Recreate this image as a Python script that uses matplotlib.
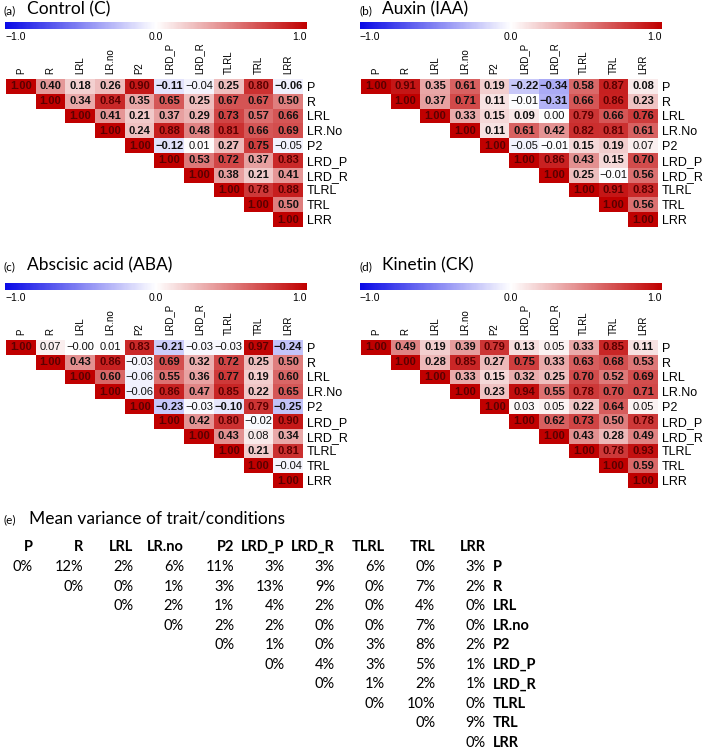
import numpy as np
import matplotlib
matplotlib.use('Agg')
import matplotlib.pyplot as plt
from matplotlib.colors import LinearSegmentedColormap, Normalize
import matplotlib.cm as cm

# ---------------- data ----------------
col_labels = ['P', 'R', 'LRL', 'LR.no', 'P2', 'LRD_P', 'LRD_R', 'TLRL', 'TRL', 'LRR']
row_labels = ['P', 'R', 'LRL', 'LR.No', 'P2', 'LRD_P', 'LRD_R', 'TLRL', 'TRL', 'LRR']

# upper-triangle rows (from diagonal to the right)
control_rows = [
    [1.00, 0.40, 0.18, 0.26, 0.90, -0.11, -0.04, 0.25, 0.80, -0.06],
    [1.00, 0.34, 0.84, 0.35, 0.65, 0.25, 0.67, 0.67, 0.50],
    [1.00, 0.41, 0.21, 0.37, 0.29, 0.73, 0.57, 0.66],
    [1.00, 0.24, 0.88, 0.48, 0.81, 0.66, 0.69],
    [1.00, -0.12, 0.01, 0.27, 0.75, -0.05],
    [1.00, 0.53, 0.72, 0.37, 0.83],
    [1.00, 0.38, 0.21, 0.41],
    [1.00, 0.78, 0.88],
    [1.00, 0.50],
    [1.00],
]
auxin_rows = [
    [1.00, 0.91, 0.35, 0.61, 0.19, -0.22, -0.34, 0.58, 0.87, 0.08],
    [1.00, 0.37, 0.71, 0.11, -0.01, -0.31, 0.66, 0.86, 0.23],
    [1.00, 0.33, 0.15, 0.09, 0.00, 0.79, 0.66, 0.76],
    [1.00, 0.11, 0.61, 0.42, 0.82, 0.81, 0.61],
    [1.00, -0.05, -0.01, 0.15, 0.19, 0.07],
    [1.00, 0.86, 0.43, 0.15, 0.70],
    [1.00, 0.25, -0.01, 0.56],
    [1.00, 0.91, 0.83],
    [1.00, 0.56],
    [1.00],
]
aba_rows = [
    [1.00, 0.07, -0.00, 0.01, 0.83, -0.21, -0.03, -0.03, 0.97, -0.24],
    [1.00, 0.43, 0.86, -0.03, 0.69, 0.32, 0.72, 0.25, 0.50],
    [1.00, 0.60, -0.06, 0.55, 0.36, 0.77, 0.19, 0.60],
    [1.00, -0.06, 0.86, 0.47, 0.85, 0.22, 0.65],
    [1.00, -0.23, -0.03, -0.10, 0.79, -0.25],
    [1.00, 0.42, 0.80, -0.02, 0.90],
    [1.00, 0.43, 0.08, 0.34],
    [1.00, 0.21, 0.81],
    [1.00, -0.04],
    [1.00],
]
kinetin_rows = [
    [1.00, 0.49, 0.19, 0.39, 0.79, 0.13, 0.05, 0.33, 0.85, 0.11],
    [1.00, 0.28, 0.85, 0.27, 0.75, 0.33, 0.63, 0.68, 0.53],
    [1.00, 0.33, 0.15, 0.32, 0.25, 0.70, 0.52, 0.69],
    [1.00, 0.23, 0.94, 0.55, 0.78, 0.70, 0.71],
    [1.00, 0.03, 0.05, 0.22, 0.64, 0.05],
    [1.00, 0.62, 0.73, 0.50, 0.78],
    [1.00, 0.43, 0.28, 0.49],
    [1.00, 0.78, 0.93],
    [1.00, 0.59],
    [1.00],
]

# non-significant pairs (shown in regular weight)
control_ns = [('P', 'LRD_R'), ('P2', 'LRD_R'), ('P2', 'LRR')]
auxin_ns = [('R', 'LRD_P'), ('LRL', 'LRD_R'), ('P2', 'LRD_P'), ('P2', 'LRD_R'),
            ('P2', 'LRR'), ('LRD_R', 'TRL')]
aba_ns = [('P', 'R'), ('P', 'LRL'), ('P', 'LR.no'), ('P', 'LRD_R'), ('P', 'TLRL'),
          ('R', 'P2'), ('LRL', 'P2'), ('LR.no', 'P2'), ('P2', 'LRD_R'),
          ('LRD_P', 'TRL'), ('LRD_R', 'TRL'), ('TRL', 'LRR')]
kinetin_ns = [('P', 'LRD_R'), ('P2', 'LRD_P'), ('P2', 'LRD_R'), ('P2', 'LRR')]

panel_letters = ['(a)', '(b)', '(c)', '(d)']
panel_titles = ['Control (C)', 'Auxin (IAA)', 'Abscisic acid (ABA)', 'Kinetin (CK)']

# mean variance table (upper triangle, %)
var_labels = ['P', 'R', 'LRL', 'LR.no', 'P2', 'LRD_P', 'LRD_R', 'TLRL', 'TRL', 'LRR']
var_rows = [
    [0, 12, 2, 6, 11, 3, 3, 6, 0, 3],
    [0, 0, 1, 3, 13, 9, 0, 7, 2],
    [0, 2, 1, 4, 2, 0, 4, 0],
    [0, 2, 2, 0, 0, 7, 0],
    [0, 1, 0, 3, 8, 2],
    [0, 4, 3, 5, 1],
    [0, 1, 2, 1],
    [0, 10, 0],
    [0, 9],
    [0],
]
table_title_letter = '(e)'
table_title = 'Mean variance of trait/conditions'

# ---------------- figure ----------------
W, H = 709, 750
fig = plt.figure(figsize=(W / 100, H / 100), dpi=100)

SANS = ['Liberation Sans', 'DejaVu Sans']
CAL = ['Lato', 'DejaVu Sans']

cmap = LinearSegmentedColormap.from_list('bwr_c', ['#0a0ae6', '#ffffff', '#c00000'])
cmap.set_bad((1, 1, 1, 0))
norm = Normalize(-1, 1)


def add_ax(x, y, w, h):
    return fig.add_axes([x / W, 1 - (y + h) / H, w / W, h / H])


def build(rows):
    n = len(rows)
    M = np.full((n, n), np.nan)
    for i, r in enumerate(rows):
        for k, v in enumerate(r):
            M[i, i + k] = v
    return M


def fmt(v):
    s = f'{abs(v):.2f}'
    return ('\u2212' + s) if (v < 0 or (v == 0 and np.signbit(v))) else s


def draw_panel(rows, ns, ox, oy):
    M = build(rows)
    idx = {l: i for i, l in enumerate(col_labels)}
    ns_set = set((idx[a], idx[b]) for a, b in ns)

    # colorbar
    cax = add_ax(ox + 5, oy + 21.7, 302, 7.6)
    cb = fig.colorbar(cm.ScalarMappable(norm=norm, cmap=cmap), cax=cax,
                      orientation='horizontal', ticks=[-1, 0, 1])
    cb.outline.set_visible(False)
    cax.set_xticklabels(['\u22121.0', '0.0', '1.0'], fontsize=7.5, family=SANS)
    cax.tick_params(length=0, pad=2)
    tl = cax.get_xticklabels()
    tl[0].set_ha('left')
    tl[2].set_ha('right')

    ax = add_ax(ox + 6, oy + 79, 297, 148)
    ax.imshow(np.ma.masked_invalid(M), cmap=cmap, norm=norm, aspect='auto',
              interpolation='nearest')
    n = M.shape[0]
    for i in range(n):
        for j in range(i, n):
            v = M[i, j]
            bold = (i, j) not in ns_set
            col = '#5a0000' if v >= 0.78 else '#111111'
            ax.text(j, i, fmt(v), ha='center', va='center', fontsize=8,
                    fontweight='bold' if bold else 'normal', color=col, family=SANS)
    ax.set_xlim(-0.5, n - 0.5)
    ax.set_ylim(n - 0.5, -0.5)
    ax.xaxis.tick_top()
    ax.set_xticks(range(n))
    ax.set_xticklabels(col_labels, rotation=90, fontsize=7, family=SANS)
    ax.yaxis.tick_right()
    ax.set_yticks(range(n))
    ax.set_yticklabels(row_labels, fontsize=9, family=SANS)
    ax.tick_params(length=0, pad=3.5)
    ax.tick_params(axis='y', pad=3.0)
    for s in ax.spines.values():
        s.set_visible(False)


panels = [(control_rows, control_ns, 0, 0),
          (auxin_rows, auxin_ns, 355, 0),
          (aba_rows, aba_ns, 0, 261),
          (kinetin_rows, kinetin_ns, 355, 261)]
for rows, ns, ox, oy in panels:
    draw_panel(rows, ns, ox, oy)

# overlay for titles and table
ov = fig.add_axes([0, 0, 1, 1])
ov.set_xlim(0, W)
ov.set_ylim(H, 0)
ov.axis('off')
ov.patch.set_alpha(0)

title_pos = [(4, 14), (359, 14), (4, 270), (359, 270)]
for (tx, ty), lt, tt in zip(title_pos, panel_letters, panel_titles):
    ov.text(tx, ty, lt, fontsize=8.5, family=CAL, va='baseline', ha='left')
    ov.text(tx + 23, ty, tt, fontsize=12.5, family=CAL, va='baseline', ha='left')

ov.text(4, 523, table_title_letter, fontsize=8.5, family=CAL, va='baseline', ha='left')
ov.text(29, 523, table_title, fontsize=12.5, family=CAL, va='baseline', ha='left')

col_right = [33 + 50.3 * k for k in range(len(var_labels))]
y_head = 547
y0 = 567
dy = 19.55
for j, lab in enumerate(var_labels):
    ov.text(col_right[j], y_head, lab, fontsize=10.5, fontweight='bold', family=CAL,
            ha='right', va='center')
for i, r in enumerate(var_rows):
    y = y0 + dy * i
    for k, v in enumerate(r):
        ov.text(col_right[i + k], y, f'{v}%', fontsize=10.5, family=CAL,
                ha='right', va='center')
    ov.text(493, y, var_labels[i], fontsize=10.5, fontweight='bold', family=CAL,
            ha='left', va='center')

fig.savefig('out.png', dpi=100)
